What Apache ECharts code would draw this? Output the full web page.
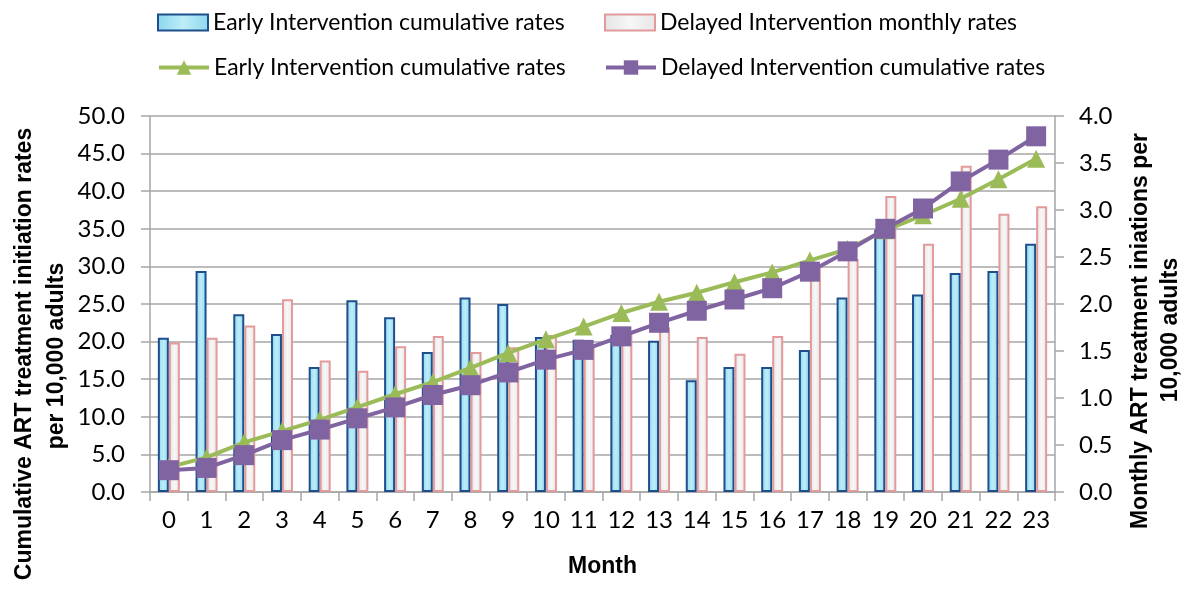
<!DOCTYPE html>
<html>
<head>
<meta charset="utf-8">
<script src="https://cdn.jsdelivr.net/npm/echarts@6/dist/echarts.min.js"></script>
<style>
html,body{margin:0;padding:0;background:#fff;}
#chart{width:1198px;height:590px;}
</style>
</head>
<body>
<div id="chart"></div>
<script>
const months = ['0','1','2','3','4','5','6','7','8','9','10','11','12','13','14','15','16','17','18','19','20','21','22','23'];
// Monthly rates (right axis)
const earlyMonthly = [1.64, 2.35, 1.89, 1.68, 1.33, 2.04, 1.86, 1.49, 2.07, 2.00, 1.65, 1.62, 1.67, 1.61, 1.19, 1.33, 1.33, 1.51, 2.07, 2.79, 2.10, 2.33, 2.35, 2.64];
const delayedMonthly = [1.59, 1.64, 1.77, 2.05, 1.40, 1.29, 1.55, 1.66, 1.49, 1.54, 1.67, 1.56, 1.68, 1.75, 1.65, 1.47, 1.66, 2.38, 2.48, 3.15, 2.64, 3.47, 2.96, 3.04];
// Cumulative rates (left axis)
const earlyCum = [3.3, 4.6, 6.6, 8.1, 9.6, 11.3, 13.0, 14.6, 16.5, 18.5, 20.3, 22.0, 23.8, 25.3, 26.5, 27.9, 29.2, 30.8, 32.3, 34.8, 36.8, 39.0, 41.6, 44.3];
const delayedCum = [2.9, 3.2, 4.9, 6.9, 8.3, 9.8, 11.25, 12.9, 14.2, 15.9, 17.6, 18.9, 20.7, 22.5, 24.1, 25.6, 27.1, 29.3, 32.0, 35.0, 37.7, 41.3, 44.2, 47.3];

const nameEarlyBar = 'Early Intervention cumulative rates';
const nameDelayedBar = 'Delayed Intervention monthly rates';
const nameEarlyLine = 'Early Intervention cumulative rates ';
const nameDelayedLine = 'Delayed Intervention cumulative rates';

const FONT = 'Lato, "Open Sans", sans-serif';
const BFONT = '"Liberation Sans", Arial, sans-serif';
const gridCol = '#a6a6a6';

const chart = echarts.init(document.getElementById('chart'));
const legendText = {fontFamily: FONT, fontSize: 23, color: '#000'};
function lg(name, left, top, isBar) {
  const o = {data: [name], left: left, top: top, itemWidth: 50, itemHeight: isBar ? 16 : 18,
    textStyle: legendText, itemGap: 0, padding: 0};
  if (isBar) o.icon = 'rect';
  else o.lineStyle = {width: 4};
  return o;
}
chart.setOption({
  animation: false,
  backgroundColor: '#fff',
  legend: [
    lg(nameEarlyBar, 157, 11, true),
    lg(nameDelayedBar, 604, 11, true),
    lg(nameEarlyLine, 157, 56, false),
    lg(nameDelayedLine, 604, 56, false)
  ],
  grid: {left: 150, right: 143, top: 116, bottom: 98},
  xAxis: {
    type: 'category', data: months, boundaryGap: true,
    name: 'Month', nameLocation: 'middle', nameGap: 63,
    nameTextStyle: {fontFamily: BFONT, fontSize: 23, fontWeight: 'bold', color: '#000'},
    axisLine: {lineStyle: {color: gridCol, width: 1.5}},
    axisTick: {show: true, length: 9, lineStyle: {color: gridCol, width: 1.5}},
    axisLabel: {fontFamily: FONT, fontSize: 24, color: '#000', margin: 16, interval: 0}
  },
  yAxis: [
    {
      type: 'value', min: 0, max: 50, interval: 5, position: 'left',
      axisLine: {show: true, lineStyle: {color: gridCol, width: 1.5}},
      axisTick: {show: true, length: 9, lineStyle: {color: gridCol, width: 1.5}},
      splitLine: {show: true, lineStyle: {color: gridCol, width: 1.5}},
      axisLabel: {fontFamily: FONT, fontSize: 24, color: '#000', margin: 25, formatter: v => v.toFixed(1)}
    },
    {
      type: 'value', min: 0, max: 4, interval: 0.5, position: 'right',
      axisLine: {show: true, lineStyle: {color: gridCol, width: 1.5}},
      axisTick: {show: true, length: 9, lineStyle: {color: gridCol, width: 1.5}},
      splitLine: {show: false},
      axisLabel: {fontFamily: FONT, fontSize: 24, color: '#000', margin: 24, formatter: v => v.toFixed(1)}
    }
  ],
  graphic: [
    {type: 'text', x: 25, y: 354, rotation: Math.PI / 2,
      style: {text: 'Cumulative ART treatment initiation rates', font: 'bold 23px ' + BFONT, fill: '#000', textAlign: 'center', textVerticalAlign: 'middle'}},
    {type: 'text', x: 57, y: 356, rotation: Math.PI / 2,
      style: {text: 'per 10,000 adults', font: 'bold 23px ' + BFONT, fill: '#000', textAlign: 'center', textVerticalAlign: 'middle'}},
    {type: 'text', x: 1141, y: 331, rotation: Math.PI / 2,
      style: {text: 'Monthly ART treatment iniations per', font: 'bold 23px ' + BFONT, fill: '#000', textAlign: 'center', textVerticalAlign: 'middle'}},
    {type: 'text', x: 1171, y: 330, rotation: Math.PI / 2,
      style: {text: '10,000 adults', font: 'bold 23px ' + BFONT, fill: '#000', textAlign: 'center', textVerticalAlign: 'middle'}}
  ],
  series: [
    {
      name: nameEarlyBar, type: 'bar', yAxisIndex: 1, data: earlyMonthly,
      barWidth: 11, barGap: '0%',
      itemStyle: {
        color: {type: 'linear', x: 0, y: 0, x2: 1, y2: 0, colorStops: [
          {offset: 0, color: '#8ad6ee'}, {offset: 0.5, color: '#bdedf8'}, {offset: 1, color: '#8fd8ee'}]},
        borderColor: '#1f4e8c', borderWidth: 2
      }
    },
    {
      name: nameDelayedBar, type: 'bar', yAxisIndex: 1, data: delayedMonthly,
      barWidth: 11, barGap: '0%',
      itemStyle: {
        color: {type: 'linear', x: 0, y: 0, x2: 1, y2: 0, colorStops: [
          {offset: 0, color: '#e4e4e4'}, {offset: 0.5, color: '#f7f7f7'}, {offset: 1, color: '#e6e6e6'}]},
        borderColor: '#e39a9a', borderWidth: 2
      }
    },
    {
      name: nameEarlyLine, type: 'line', yAxisIndex: 0, data: earlyCum,
      symbol: 'triangle', symbolSize: 18, showAllSymbol: true,
      lineStyle: {color: '#9bbb59', width: 4},
      itemStyle: {color: '#9bbb59'}, z: 3
    },
    {
      name: nameDelayedLine, type: 'line', yAxisIndex: 0, data: delayedCum,
      symbol: 'rect', symbolSize: 20, showAllSymbol: true,
      lineStyle: {color: '#8064a2', width: 4},
      itemStyle: {color: '#8064a2'}, z: 4
    }
  ]
});
</script>
</body>
</html>
